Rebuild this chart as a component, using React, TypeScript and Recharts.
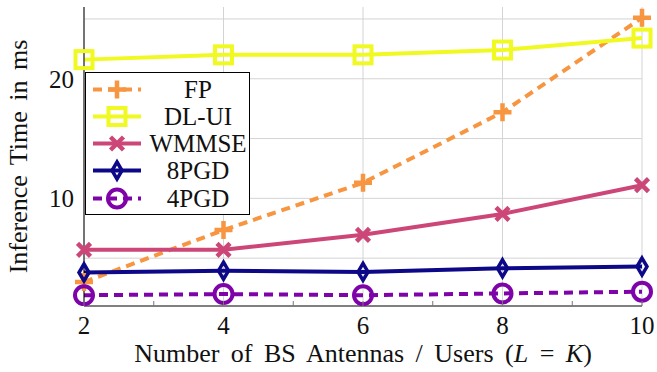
import React from "react";
import { LineChart, Line, XAxis, YAxis, CartesianGrid, Legend } from "recharts";

// antennas / users (L = K)
const xValues = [2, 4, 6, 8, 10];
const xTickMarks = [2, 3, 4, 5, 6, 7, 8, 9, 10];
const yGridValues = [5, 10, 15, 20, 25];
const yTickLabels = [10, 20];

// inference time in ms
const fpTimes = [3.0, 7.35, 11.3, 17.2, 25.1];
const dlUiTimes = [21.6, 22.0, 22.0, 22.4, 23.4];
const wmmseTimes = [5.7, 5.7, 6.95, 8.7, 11.1];
const pgd8Times = [3.8, 3.95, 3.85, 4.15, 4.3];
const pgd4Times = [1.9, 2.0, 1.9, 2.05, 2.2];

const FONT = "'Liberation Serif', 'Times New Roman', serif";
const FS = 25;
const LABEL_FS = 26;

type Shape = "plus" | "square" | "cross" | "diamond" | "circle";

const series: { key: string; name: string; values: number[]; color: string; dash?: string; shape: Shape }[] = [
  { key: "fp", name: "FP", values: fpTimes, color: "#F89540", dash: "9 6", shape: "plus" },
  { key: "dlui", name: "DL-UI", values: dlUiTimes, color: "#F0F921", shape: "square" },
  { key: "wmmse", name: "WMMSE", values: wmmseTimes, color: "#CC4778", shape: "cross" },
  { key: "pgd8", name: "8PGD", values: pgd8Times, color: "#0D0887", shape: "diamond" },
  { key: "pgd4", name: "4PGD", values: pgd4Times, color: "#7E03A8", dash: "9 6", shape: "circle" },
];

const data = xValues.map((x, i) => {
  const row: Record<string, number> = { x };
  series.forEach((s) => (row[s.key] = s.values[i]));
  return row;
});

const Marker = ({ shape, cx, cy, color }: { shape: Shape; cx: number; cy: number; color: string }) => {
  const common = { stroke: color, strokeWidth: 4, fill: "none" };
  switch (shape) {
    case "plus":
      return <path d={`M${cx - 9},${cy}H${cx + 9}M${cx},${cy - 9}V${cy + 9}`} {...common} strokeWidth={4.5} />;
    case "square":
      return <rect x={cx - 8.5} y={cy - 8.5} width={17} height={17} {...common} />;
    case "cross":
      return (
        <path
          d={`M${cx - 6.5},${cy - 6.5}L${cx + 6.5},${cy + 6.5}M${cx + 6.5},${cy - 6.5}L${cx - 6.5},${cy + 6.5}`}
          {...common}
          strokeWidth={4.5}
        />
      );
    case "diamond":
      return <path d={`M${cx},${cy - 8.5}L${cx + 5},${cy}L${cx},${cy + 8.5}L${cx - 5},${cy}Z`} {...common} strokeWidth={3.5} />;
    default:
      return <circle cx={cx} cy={cy} r={9} {...common} />;
  }
};

const BottomTick = ({ x, y, payload }: any) => (
  <g>
    <line x1={x} x2={x} y1={y} y2={y - 5} stroke="#777" />
    {xValues.includes(payload.value) && (
      <text x={x} y={y + 28} textAnchor="middle" fontFamily={FONT} fontSize={FS} fill="#111">
        {payload.value}
      </text>
    )}
  </g>
);

const TopTick = ({ x, y }: any) => <line x1={x} x2={x} y1={y} y2={y + 5} stroke="#777" />;

const LeftTick = ({ x, y, payload }: any) =>
  yTickLabels.includes(payload.value) ? (
    <text x={x - 10} y={y + 9} textAnchor="end" fontFamily={FONT} fontSize={FS} fill="#111">
      {payload.value}
    </text>
  ) : (
    <g />
  );

const LegendBox = () => (
  <div
    style={{
      width: 165,
      height: 143,
      boxSizing: "border-box",
      border: "1px solid #000",
      background: "#fff",
      position: "relative",
      fontFamily: FONT,
      fontSize: FS,
      color: "#111",
    }}
  >
    {series.map((s, i) => (
      <div key={s.key} style={{ position: "absolute", left: 0, top: 2.5 + i * 27.3, width: "100%", height: 27 }}>
        <svg width={52} height={27} style={{ position: "absolute", left: 5, top: 0, overflow: "visible" }}>
          <line x1={2} x2={50} y1={13.5} y2={13.5} stroke={s.color} strokeWidth={4} strokeDasharray={s.dash} />
          <Marker shape={s.shape} cx={26} cy={13.5} color={s.color} />
        </svg>
        <span
          style={{
            position: "absolute",
            left: 112,
            top: 0,
            transform: "translateX(-50%)",
            lineHeight: "27px",
            whiteSpace: "nowrap",
          }}
        >
          {s.name}
        </span>
      </div>
    ))}
  </div>
);

const XLabel = ({ viewBox }: any) => (
  <text
    x={viewBox.x + viewBox.width / 2}
    y={viewBox.y + 56}
    textAnchor="middle"
    fontFamily={FONT}
    fontSize={LABEL_FS}
    fill="#111"
    style={{ wordSpacing: 5 }}
  >
    Number of BS Antennas / Users (<tspan fontStyle="italic">L</tspan> = <tspan fontStyle="italic">K</tspan>)
  </text>
);

const YLabel = ({ viewBox }: any) => {
  const cx = viewBox.x + 27;
  const cy = viewBox.y + viewBox.height / 2;
  return (
    <text
      x={cx}
      y={cy}
      transform={`rotate(-90, ${cx}, ${cy})`}
      textAnchor="middle"
      fontFamily={FONT}
      fontSize={LABEL_FS}
      fill="#111"
      style={{ wordSpacing: 4 }}
    >
      Inference Time in ms
    </text>
  );
};

export default function App() {
  return (
    <div style={{ position: "absolute", left: 0, top: 0, width: 657, height: 372, background: "#fff" }}>
      <LineChart width={657} height={372} data={data} margin={{ top: 7, right: 15, bottom: 0, left: 0 }}>
        <CartesianGrid stroke="#d4d4d4" verticalValues={xValues} horizontalValues={yGridValues} />
        <XAxis
          dataKey="x"
          type="number"
          domain={[2, 10]}
          ticks={xTickMarks}
          height={66}
          tickSize={0}
          tickMargin={0}
          tickLine={false}
          tick={<BottomTick />}
          axisLine={{ stroke: "#000" }}
          interval={0}
          label={<XLabel />}
        />
        <XAxis
          xAxisId="top"
          orientation="top"
          dataKey="x"
          type="number"
          domain={[2, 10]}
          ticks={xTickMarks}
          height={0}
          tickSize={0}
          tickMargin={0}
          tickLine={false}
          tick={<TopTick />}
          axisLine={{ stroke: "#000" }}
          interval={0}
        />
        <YAxis
          type="number"
          domain={[1, 26]}
          allowDataOverflow
          ticks={yGridValues}
          width={84}
          tickSize={0}
          tickMargin={0}
          tickLine={false}
          tick={<LeftTick />}
          axisLine={{ stroke: "#000" }}
          interval={0}
          label={<YLabel />}
        />
        <YAxis
          yAxisId="right"
          orientation="right"
          type="number"
          domain={[1, 26]}
          width={0}
          tick={false}
          tickLine={false}
          axisLine={{ stroke: "#000" }}
        />
        {series.map((s) => (
          <Line
            key={s.key}
            dataKey={s.key}
            name={s.name}
            stroke={s.color}
            strokeWidth={4}
            strokeDasharray={s.dash}
            isAnimationActive={false}
            dot={(p: any) => <Marker key={`${s.key}-${p.index}`} shape={s.shape} cx={p.cx} cy={p.cy} color={s.color} />}
            activeDot={false}
          />
        ))}
        <Legend
          layout="vertical"
          align="center"
          verticalAlign="middle"
          content={<LegendBox />}
          wrapperStyle={{ position: "absolute", left: 85, top: 72, width: 165, height: 143 }}
        />
      </LineChart>
    </div>
  );
}
